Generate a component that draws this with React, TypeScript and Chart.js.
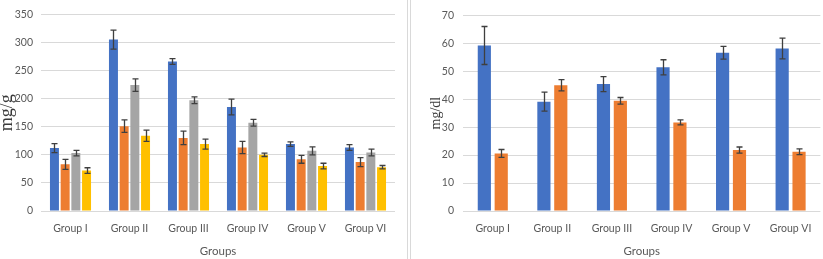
import React, { useEffect, useRef } from "react";
import { Chart, registerables } from "chart.js";

Chart.register(...registerables);

const categories = ["Group I", "Group II", "Group III", "Group IV", "Group V", "Group VI"];

// Left chart (mg/g)
const leftBlue = [112, 305, 266, 185, 119, 113];
const leftBlueErr = [8, 17, 5, 14, 4, 5];
const leftOrange = [83, 151, 130, 113, 92, 87];
const leftOrangeErr = [9, 11, 12, 11, 7, 8];
const leftGray = [103, 224, 197, 157, 107, 104];
const leftGrayErr = [5, 11, 6, 6, 7, 6];
const leftYellow = [72, 134, 119, 100, 80, 78];
const leftYellowErr = [5, 10, 9, 3, 5, 3];

// Right chart (mg/dl)
const rightBlue = [59.2, 39.1, 45.4, 51.4, 56.6, 58.1];
const rightBlueErr = [6.8, 3.4, 2.7, 2.7, 2.3, 3.7];
const rightOrange = [20.6, 45.0, 39.4, 31.7, 21.8, 21.2];
const rightOrangeErr = [1.4, 2.0, 1.2, 0.9, 1.1, 1.0];

const BLUE = "#4472C4";
const ORANGE = "#ED7D31";
const GRAY = "#A5A5A5";
const YELLOW = "#FFC000";
const FONT = "Lato, 'Liberation Sans', sans-serif";
const SERIF = "'Liberation Serif', 'DejaVu Serif', serif";
const TEXT = "#595959";
const GRID = "#D9D9D9";

const errorBarPlugin = {
  id: "errorBars",
  afterDatasetsDraw(chart: any) {
    const ctx = chart.ctx;
    const y = chart.scales.y;
    chart.data.datasets.forEach((ds: any, i: number) => {
      const meta = chart.getDatasetMeta(i);
      const errs: number[] = ds.errors || [];
      meta.data.forEach((bar: any, j: number) => {
        const v = ds.data[j];
        const e = errs[j];
        if (e == null) return;
        const yt = y.getPixelForValue(v + e);
        const yb = y.getPixelForValue(v - e);
        const x = Math.round(bar.x) + 0.5;
        const cap = 3;
        ctx.save();
        ctx.strokeStyle = "#3F3F3F";
        ctx.lineWidth = 1.3;
        ctx.beginPath();
        ctx.moveTo(x, yt);
        ctx.lineTo(x, yb);
        ctx.moveTo(x - cap, yt);
        ctx.lineTo(x + cap, yt);
        ctx.moveTo(x - cap, yb);
        ctx.lineTo(x + cap, yb);
        ctx.stroke();
        ctx.restore();
      });
    });
  },
};

function makeOptions(cfg: {
  max: number;
  step: number;
  yTitle: string;
  yTitleSize: number;
  yTitleLH: number;
  yTitlePad: number;
  yWidth: number;
  tickPad: number;
  padRight: number;
}) {
  return {
    responsive: false,
    animation: false as const,
    layout: { padding: { left: 0, right: cfg.padRight, top: 5, bottom: 0 } },
    plugins: { legend: { display: false }, tooltip: { enabled: false } },
    scales: {
      x: {
        grid: { display: false, drawTicks: false },
        border: { display: false },
        ticks: { color: TEXT, font: { family: FONT, size: 10.5 }, padding: 11.5, maxRotation: 0 },
        title: {
          display: true,
          text: "Groups",
          color: TEXT,
          font: { family: FONT, size: 11.5 },
          padding: { top: 0, bottom: 1 },
        },
        afterFit: (s: any) => {
          s.height = 48;
        },
      },
      y: {
        min: 0,
        max: cfg.max,
        ticks: { stepSize: cfg.step, color: TEXT, font: { family: FONT, size: 10.5 }, padding: cfg.tickPad },
        grid: { color: GRID, lineWidth: 1, drawTicks: false },
        border: { display: false },
        title: {
          display: true,
          text: cfg.yTitle,
          color: "#3A3A3A",
          font: { family: SERIF, size: cfg.yTitleSize, lineHeight: cfg.yTitleLH },
          padding: { top: cfg.yTitlePad, bottom: 0 },
        },
        afterFit: (s: any) => {
          s.width = cfg.yWidth;
        },
      },
    },
  };
}

function ChartCanvas({ config, width, height }: { config: any; width: number; height: number }) {
  const ref = useRef<HTMLCanvasElement | null>(null);
  useEffect(() => {
    if (!ref.current) return;
    const chart = new Chart(ref.current, config);
    return () => chart.destroy();
  }, []);
  return <canvas ref={ref} width={width} height={height} style={{ display: "block" }} />;
}

export default function App() {
  const leftConfig = {
    type: "bar",
    data: {
      labels: categories,
      datasets: [
        { data: leftBlue, errors: leftBlueErr, backgroundColor: BLUE },
        { data: leftOrange, errors: leftOrangeErr, backgroundColor: ORANGE },
        { data: leftGray, errors: leftGrayErr, backgroundColor: GRAY },
        { data: leftYellow, errors: leftYellowErr, backgroundColor: YELLOW },
      ].map((d) => ({ ...d, categoryPercentage: 0.725, barPercentage: 0.84 })),
    },
    options: makeOptions({
      max: 350,
      step: 50,
      yTitle: "mg/g",
      yTitleSize: 18,
      yTitleLH: 0.85,
      yTitlePad: 0,
      yWidth: 41,
      tickPad: 8,
      padRight: 12,
    }),
    plugins: [errorBarPlugin],
  };

  const rightConfig = {
    type: "bar",
    data: {
      labels: categories,
      datasets: [
        { data: rightBlue, errors: rightBlueErr, backgroundColor: BLUE },
        { data: rightOrange, errors: rightOrangeErr, backgroundColor: ORANGE },
      ].map((d) => ({ ...d, categoryPercentage: 0.567, barPercentage: 0.78 })),
    },
    options: makeOptions({
      max: 70,
      step: 10,
      yTitle: "mg/dl",
      yTitleSize: 14,
      yTitleLH: 1.2,
      yTitlePad: 17,
      yWidth: 52,
      tickPad: 9,
      padRight: 1,
    }),
    plugins: [errorBarPlugin],
  };

  return (
    <div
      style={{
        position: "absolute",
        left: 0,
        top: 0,
        width: 823,
        height: 259,
        background: "#fff",
        overflow: "hidden",
      }}
    >
      <div style={{ position: "absolute", left: 0, top: 0 }}>
        <ChartCanvas config={leftConfig} width={407} height={259} />
      </div>
      <div style={{ position: "absolute", left: 407, top: 0, width: 1, height: 259, background: "#D9D9D9" }} />
      <div style={{ position: "absolute", left: 410, top: 0, width: 1, height: 259, background: "#D9D9D9" }} />
      <div style={{ position: "absolute", left: 411, top: 0 }}>
        <ChartCanvas config={rightConfig} width={412} height={259} />
      </div>
    </div>
  );
}
